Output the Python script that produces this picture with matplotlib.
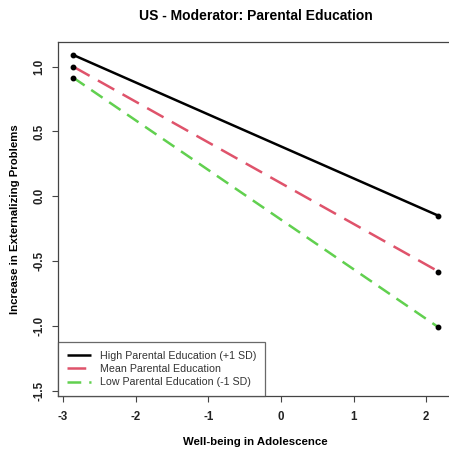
import matplotlib
matplotlib.use("Agg")
import matplotlib.pyplot as plt

plt.rcParams['font.family'] = ['Liberation Sans', 'DejaVu Sans']

x_vals = [-2.86, 2.17]
high = [1.09, -0.15]
mean = [1.00, -0.58]
low = [0.915, -1.01]
labels = ["High Parental Education (+1 SD)", "Mean Parental Education", "Low Parental Education (-1 SD)"]
xticks = [-3, -2, -1, 0, 1, 2]
yticks = [-1.5, -1.0, -0.5, 0.0, 0.5, 1.0]

fig = plt.figure(figsize=(4.49, 4.54), dpi=100)
ax = fig.add_axes([58/449, 1-396/454, (453-58)/449, (396-42)/454])

ax.plot(x_vals, high, color='black', lw=1.8, solid_capstyle='butt', label=labels[0])
ax.plot(x_vals, mean, color='#DF536B', lw=1.8, dashes=(7.5, 3.8), label=labels[1])
ax.plot(x_vals, low, color='#61D04F', lw=1.8, dashes=(5.5, 3.2), label=labels[2])
for s in (high, mean, low):
    ax.plot(x_vals, s, 'o', color='black', ms=3.2, zorder=5)

ax.set_xlim(-3.07, 2.37)
ax.set_ylim(-1.54, 1.19)
ax.set_xticks(xticks)
ax.set_xticklabels([str(t) for t in xticks], fontsize=8.3, fontweight='bold', color='#222222')
ax.set_yticks(yticks)
ax.set_yticklabels([f"{t:.1f}" for t in yticks], fontsize=8.3, fontweight='bold', color='#222222',
                   rotation=90, va='center')
ax.tick_params(axis='both', length=4, width=0.8, color='#444444')
ax.tick_params(axis='y', pad=5)
ax.tick_params(axis='x', pad=7)
for sp in ax.spines.values():
    sp.set_color('#444444')
    sp.set_linewidth(0.9)

ax.set_title("US - Moderator: Parental Education", fontsize=10, fontweight='bold', pad=16)
ax.set_xlabel("Well-being in Adolescence", fontsize=8.2, fontweight='bold', labelpad=10)
ax.set_ylabel("Increase in Externalizing Problems", fontsize=8.2, fontweight='bold', labelpad=10)

leg = ax.legend(loc='lower left', bbox_to_anchor=(0, 0), fontsize=7.7, frameon=True,
                fancybox=False, borderaxespad=0, handlelength=2.3, handletextpad=0.85,
                labelspacing=0.3, borderpad=0.8)
leg.get_frame().set_edgecolor('#444444')
leg.get_frame().set_linewidth(0.9)
for t in leg.get_texts():
    t.set_color('#333333')

fig.savefig("out.png", dpi=100)
